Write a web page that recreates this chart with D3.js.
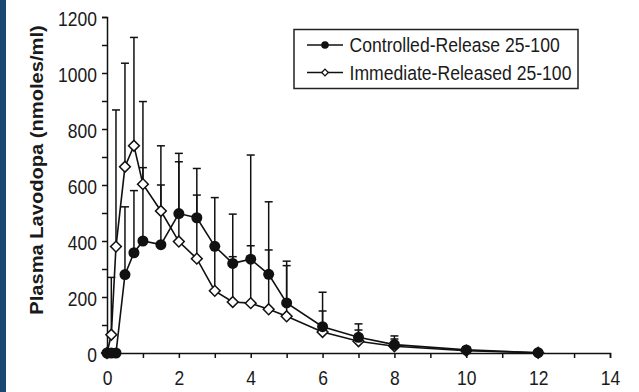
<!DOCTYPE html>
<html>
<head>
<meta charset="utf-8">
<script src="https://cdn.jsdelivr.net/npm/d3@7"></script>
<style>
  html, body { margin: 0; padding: 0; background: #ffffff; }
  svg { display: block; }
  text { font-family: "Liberation Sans", Arial, Helvetica, sans-serif; fill: #1a1a1a; }
</style>
</head>
<body>
<svg id="chart" width="639" height="392"></svg>
<script>
// ---- data ----
const times = [0, 0.12, 0.25, 0.5, 0.75, 1, 1.5, 2, 2.5, 3, 3.5, 4, 4.5, 5, 6, 7, 8, 10, 12];
const crMean  = [0, 0, 0, 280, 358, 400, 387, 498, 483, 381, 320, 335, 281, 179, 94, 56, 30, 11, 1];
const crUpper = [0, 0, 0, 522, 580, 662, 600, 683, 659, 555, 496, 707, 540, 328, 217, 104, 61, 22, 1];
const irMean  = [0, 65, 380, 665, 740, 603, 507, 398, 337, 222, 182, 178, 156, 131, 75, 42, 24, 8, 1];
const irUpper = [0, 270, 868, 1035, 1127, 898, 740, 713, 564, 375, 344, 383, 368, 312, 150, 82, 50, 14, 1];
const seriesNames = ["Controlled-Release 25-100", "Immediate-Released 25-100"];
const xTickValues = [0, 1, 2, 3, 4, 5, 6, 7, 8, 9, 10, 11, 12, 13, 14];
const yTickValues = [0, 100, 200, 300, 400, 500, 600, 700, 800, 900, 1000, 1100, 1200];
const yLabel = "Plasma Lavodopa (nmoles/ml)";

(function () {
// ---- layout ----
const W = 639, H = 392;
const pLeft = 107, pRight = 610, pTop = 17, pBottom = 353;
const ink = "#111";
const stretch = 1.12;

const svg = d3.select("#chart");
svg.append("rect").attr("width", W).attr("height", H).attr("fill", "#ffffff");
svg.append("rect").attr("x", 0).attr("y", 0).attr("width", 6).attr("height", H).attr("fill", "#1b4870");

const x = d3.scaleLinear().domain([0, 14]).range([pLeft, pRight]);
const y = d3.scaleLinear().domain([0, 1200]).range([pBottom, pTop]);

// axes
const xAxis = d3.axisBottom(x).tickValues(xTickValues).tickSize(5).tickSizeOuter(5)
  .tickFormat(d => d % 2 === 0 ? d : "");
const yAxis = d3.axisLeft(y).tickValues(yTickValues).tickSize(5).tickSizeOuter(5)
  .tickFormat(d => d % 200 === 0 ? d : "");

const gx = svg.append("g").attr("transform", `translate(0,${pBottom})`).call(xAxis);
const gy = svg.append("g").attr("transform", `translate(${pLeft},0)`).call(yAxis);

[gx, gy].forEach(g => {
  g.select(".domain").attr("stroke", ink).attr("stroke-width", 1.5);
  g.selectAll(".tick line").attr("stroke", ink).attr("stroke-width", 1.5);
  g.selectAll(".tick text").attr("fill", "#1a1a1a")
    .style("font-size", "17.5px").style("font-family", "'Liberation Sans', Arial, sans-serif");
});
gx.selectAll(".tick text").attr("y", 16.5).attr("dy", "0.71em").attr("transform", `scale(1,${stretch})`);
gy.selectAll(".tick text").attr("x", -10).attr("dy", "0.45em").attr("transform", `scale(1,${stretch})`);

// y label
svg.append("text")
  .attr("transform", `translate(43,170) scale(1,1.15) rotate(-90)`)
  .attr("text-anchor", "middle")
  .style("font-size", "17.5px")
  .style("font-weight", "bold")
  .text(yLabel);

// error bars (upper only)
function errorBars(mean, upper) {
  const g = svg.append("g").attr("stroke", ink).attr("stroke-width", 1.5);
  times.forEach((t, i) => {
    if (upper[i] - mean[i] < 2) return;
    g.append("line").attr("x1", x(t)).attr("x2", x(t)).attr("y1", y(mean[i])).attr("y2", y(upper[i]));
    g.append("line").attr("x1", x(t) - 4).attr("x2", x(t) + 4).attr("y1", y(upper[i])).attr("y2", y(upper[i]));
  });
}
errorBars(irMean, irUpper);
errorBars(crMean, crUpper);

// lines
const line = d3.line().x(d => x(d[0])).y(d => y(d[1]));
const crData = times.map((t, i) => [t, crMean[i]]);
const irData = times.map((t, i) => [t, irMean[i]]);
svg.append("path").datum(irData).attr("d", line).attr("fill", "none").attr("stroke", ink).attr("stroke-width", 1.6);
svg.append("path").datum(crData).attr("d", line).attr("fill", "none").attr("stroke", ink).attr("stroke-width", 1.6);

// markers
const diamond = d3.symbol().type(d3.symbolSquare).size(58);
svg.append("g").selectAll("path").data(irData).join("path")
  .attr("d", diamond)
  .attr("transform", d => `translate(${x(d[0])},${y(d[1])}) rotate(45)`)
  .attr("fill", "#fff").attr("stroke", ink).attr("stroke-width", 1.5);
svg.append("g").selectAll("circle").data(crData).join("circle")
  .attr("cx", d => x(d[0])).attr("cy", d => y(d[1])).attr("r", 5.5)
  .attr("fill", ink);

// legend
const lg = svg.append("g");
lg.append("rect").attr("x", 294).attr("y", 29.5).attr("width", 284).attr("height", 59)
  .attr("fill", "#fff").attr("stroke", "#222").attr("stroke-width", 1.5);
const rows = [45, 72.5];
seriesNames.forEach((name, i) => {
  const cy = rows[i];
  lg.append("line").attr("x1", 307).attr("x2", 343).attr("y1", cy).attr("y2", cy)
    .attr("stroke", ink).attr("stroke-width", 1.5);
  if (i === 0) {
    lg.append("circle").attr("cx", 325).attr("cy", cy).attr("r", 3.8).attr("fill", ink);
  } else {
    lg.append("path").attr("d", d3.symbol().type(d3.symbolSquare).size(22))
      .attr("transform", `translate(325,${cy}) rotate(45)`)
      .attr("fill", "#fff").attr("stroke", ink).attr("stroke-width", 1.3);
  }
  lg.append("g").attr("transform", `translate(349.5,${cy})`)
    .append("text").attr("dy", "0.36em").attr("transform", `scale(1,${stretch})`)
    .style("font-size", "17.6px").text(name);
});
})();
</script>
</body>
</html>
